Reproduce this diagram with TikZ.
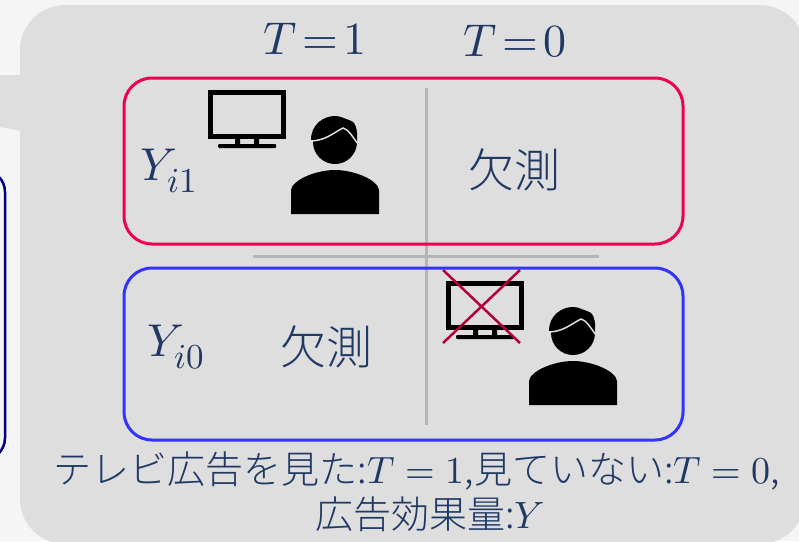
\documentclass[tikz,border=0pt]{standalone}
\usepackage{fontspec}
\usepackage{unicode-math}
\setmainfont{Noto Sans CJK JP Light}
\setmathfont{Latin Modern Math}
\DeclareMathSizes{46}{46}{35}{26}
\definecolor{pagegray}{HTML}{F5F5F5}
\definecolor{panelgray}{HTML}{DEDEDE}
\definecolor{linegray}{HTML}{B5B5B5}
\definecolor{textnavy}{HTML}{1F3864}
\definecolor{framered}{HTML}{EE0055}
\definecolor{frameblue}{HTML}{3333FF}
\definecolor{framenavy}{HTML}{000080}
\definecolor{crossred}{HTML}{B3003C}
\tikzset{
  label text/.style={text=textnavy, inner sep=0pt, font=\fontsize{46}{50}\selectfont},
  note text/.style={text=textnavy, inner sep=0pt, align=center, font=\fontsize{38}{45}\selectfont},
  case box/.style={line width=3pt, rounded corners=28pt},
  divider/.style={linegray, line width=3pt},
  tv/.pic={
    \draw[line width=5pt] (0,0) rectangle (73,44);
    \fill (25,47) rectangle (30,53) (44,47) rectangle (49,53);
    \fill[rounded corners=1pt] (8,52) rectangle (66,56);
  },
  person/.pic={
    \fill (0,98) -- (0,74) .. controls (1,64) and (25,54) .. (44,54)
      .. controls (63,54) and (87,64) .. (88,74) -- (88,98) -- cycle;
    \fill (44,26) circle (22);
    \fill (20,24) .. controls (20,8) and (33,0) .. (44,0)
      .. controls (50,0) and (54,3) .. (58,4) .. controls (64,5) and (67,12) .. (66,26)
      -- (44,26) -- cycle;
    \draw[panelgray, line width=1.5pt] (19,25) .. controls (34,25) and (42,17) .. (52,12)
      .. controls (57,13) and (61,20) .. (67,28);
  }
}
\begin{document}
\begin{tikzpicture}[x=1pt, y=-1pt]
  \useasboundingbox (0,0) rectangle (799,541);
  \clip (0,0) rectangle (799,541);
  \fill[pagegray] (0,0) rectangle (799,541);
  % speech tail and neighbouring frame
  \fill[panelgray] (0,75) -- (21,75) -- (21,131) -- (0,127) -- cycle;
  \draw[framenavy, line width=2.5pt, rounded corners=22pt] (-60,170) rectangle (5,460);
  \fill[panelgray, rounded corners=45pt] (20,5) rectangle (805,544);

  \node[label text] (tone) at (315,39) {$T\!=\!1$};
  \node[label text] (tzero) at (515,41) {$T\!=\!0$};

  \draw[divider] (426,88) -- (426,425);
  \draw[divider] (253,256) -- (599,256);

  \draw[case box, framered] (124,78) rectangle (683,244);
  \draw[case box, frameblue] (124,268) rectangle (683,440);

  \node[label text] (yone) at (169,171) {$Y_{i1}$};
  \node[label text] (yzero) at (176,347) {$Y_{i0}$};
  \node[label text] (miss top) at (514,170) {欠測};
  \node[label text] (miss bottom) at (326,347) {欠測};

  \pic at (210,92) {tv};
  \pic at (291,116) {person};
  \pic at (448,283) {tv};
  \pic at (529,307) {person};
  \draw[crossred, line width=2.5pt] (443,270) -- (520,343) (520,270) -- (443,343);

  \node[note text] (note) at (417,492) {テレビ広告を見た:$T=1$,見ていない:$T=0$,\\\hspace*{26pt}広告効果量:$Y$};
\end{tikzpicture}
\end{document}
